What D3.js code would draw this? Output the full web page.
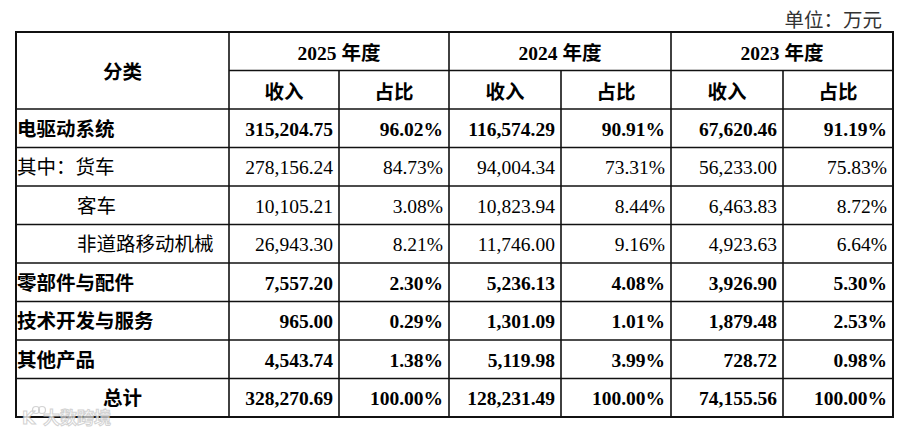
<!DOCTYPE html>
<html>
<head>
<meta charset="utf-8">
<script src="https://cdn.jsdelivr.net/npm/d3@7/dist/d3.min.js"></script>
<style>
html,body{margin:0;padding:0;background:#fff;}
svg{display:block;}
</style>
</head>
<body>
<svg id="chart" width="900" height="431"></svg>
<script>
// ---------- data ----------
const categories = ["电驱动系统","其中：货车","客车","非道路移动机械","零部件与配件","技术开发与服务","其他产品","总计"];
const boldRows   = [true,false,false,false,true,true,true,true];
const indentRows = [false,false,true,true,false,false,false,false];
const years = ["2025 年度","2024 年度","2023 年度"];
const subHeaders = ["收入","占比"];
const rev2025 = [315204.75,278156.24,10105.21,26943.30,7557.20,965.00,4543.74,328270.69];
const pct2025 = [96.02,84.73,3.08,8.21,2.30,0.29,1.38,100.00];
const rev2024 = [116574.29,94004.34,10823.94,11746.00,5236.13,1301.09,5119.98,128231.49];
const pct2024 = [90.91,73.31,8.44,9.16,4.08,1.01,3.99,100.00];
const rev2023 = [67620.46,56233.00,6463.83,4923.63,3926.90,1879.48,728.72,74155.56];
const pct2023 = [91.19,75.83,8.72,6.64,5.30,2.53,0.98,100.00];
const unitLabel = "单位：万元";
const firstHeader = "分类";

// ---------- layout ----------
const svg = d3.select("#chart");
const colEdges = [16,229,339,449,561,671,783,893];
const tableTop = 32, headMid = 70.5, headBottom = 109, tableBottom = 417;
const fs = 19.5;
const serif = "'Liberation Serif','Times New Roman','Noto Sans CJK SC',serif";
const cjk = "'Noto Sans CJK SC','Liberation Serif',sans-serif";

const rowScale = d3.scaleBand().domain(d3.range(categories.length)).range([headBottom, tableBottom]).padding(0);
const fmtRev = d3.format(",.2f");
const fmtPct = v => d3.format(".2f")(v) + "%";

const seriesCols = [rev2025,pct2025,rev2024,pct2024,rev2023,pct2023];
const seriesFmt = [fmtRev,fmtPct,fmtRev,fmtPct,fmtRev,fmtPct];

// unit label
svg.append("text").attr("x",882).attr("y",27).attr("text-anchor","end")
  .attr("font-family",cjk).attr("font-size",fs).attr("fill","#333").text(unitLabel);

// header texts
svg.append("text").attr("x",(colEdges[0]+colEdges[1])/2).attr("y",(tableTop+headBottom)/2+8)
  .attr("text-anchor","middle").attr("font-family",cjk).attr("font-weight","bold")
  .attr("font-size",fs).attr("fill","#000").text(firstHeader);

years.forEach((y,i)=>{
  const x0 = colEdges[1+2*i], x1 = colEdges[3+2*i];
  svg.append("text").attr("x",(x0+x1)/2).attr("y",(tableTop+headMid)/2+8.5)
    .attr("text-anchor","middle").attr("font-family",serif).attr("font-weight","bold")
    .attr("font-size",fs).attr("fill","#000").text(y);
  subHeaders.forEach((s,j)=>{
    const a = colEdges[1+2*i+j], b = colEdges[2+2*i+j];
    svg.append("text").attr("x",(a+b)/2).attr("y",(headMid+headBottom)/2+9)
      .attr("text-anchor","middle").attr("font-family",cjk).attr("font-weight","bold")
      .attr("font-size",fs).attr("fill","#000").text(s);
  });
});

// rows
const rows = svg.append("g").selectAll("g.row").data(categories).join("g")
  .attr("class","row")
  .attr("transform",(d,i)=>`translate(0,${rowScale(i)+rowScale.bandwidth()/2})`);

rows.append("text")
  .attr("x",(d,i)=> i===categories.length-1 ? (colEdges[0]+colEdges[1])/2 : (indentRows[i] ? 77 : 17))
  .attr("y",7.5)
  .attr("text-anchor",(d,i)=> i===categories.length-1 ? "middle":"start")
  .attr("font-family",cjk)
  .attr("font-weight",(d,i)=>boldRows[i]?"bold":"normal")
  .attr("font-size",fs).attr("fill","#000")
  .text(d=>d);

seriesCols.forEach((arr,c)=>{
  rows.append("text")
    .attr("x",colEdges[c+2]-6)
    .attr("y",7.5)
    .attr("text-anchor","end")
    .attr("font-family",serif)
    .attr("font-weight",(d,i)=>boldRows[i]?"bold":"normal")
    .attr("font-size",fs).attr("fill","#000")
    .text((d,i)=>seriesFmt[c](arr[i]));
});

// grid lines
const grid = svg.append("g").attr("stroke","#111").attr("stroke-width",1.6);
grid.append("line").attr("x1",colEdges[1]).attr("x2",colEdges[7]).attr("y1",headMid).attr("y2",headMid);
d3.range(1,categories.length).forEach(i=>{
  grid.append("line").attr("x1",colEdges[0]).attr("x2",colEdges[7])
    .attr("y1",rowScale(i)).attr("y2",rowScale(i));
});
grid.append("line").attr("x1",colEdges[0]).attr("x2",colEdges[7]).attr("y1",headBottom).attr("y2",headBottom);
[1,3,5].forEach(k=>{
  grid.append("line").attr("x1",colEdges[k]).attr("x2",colEdges[k]).attr("y1",tableTop).attr("y2",tableBottom);
});
[2,4,6].forEach(k=>{
  grid.append("line").attr("x1",colEdges[k]).attr("x2",colEdges[k]).attr("y1",headMid).attr("y2",tableBottom);
});
svg.append("rect").attr("x",colEdges[0]).attr("y",tableTop)
  .attr("width",colEdges[7]-colEdges[0]).attr("height",tableBottom-tableTop)
  .attr("fill","none").attr("stroke","#111").attr("stroke-width",2);

// watermark
const wm = svg.append("g").attr("opacity",0.8);
wm.append("text").attr("x",43).attr("y",424).attr("font-family",cjk).attr("font-weight","bold")
  .attr("font-size",17).attr("fill","#fff").attr("stroke","#c8c8c8").attr("stroke-width",1)
  .text("大数跨境");
wm.append("text").attr("x",22).attr("y",424).attr("font-family","'DejaVu Sans',sans-serif").attr("font-weight","bold")
  .attr("font-size",17).attr("fill","#fff").attr("stroke","#c8c8c8").attr("stroke-width",1)
  .text("K");
wm.append("circle").attr("cx",36).attr("cy",410).attr("r",3.5).attr("fill","none").attr("stroke","#c8c8c8").attr("stroke-width",1.2);
wm.append("circle").attr("cx",42).attr("cy",410).attr("r",3.5).attr("fill","none").attr("stroke","#c8c8c8").attr("stroke-width",1.2);
</script>
</body>
</html>
